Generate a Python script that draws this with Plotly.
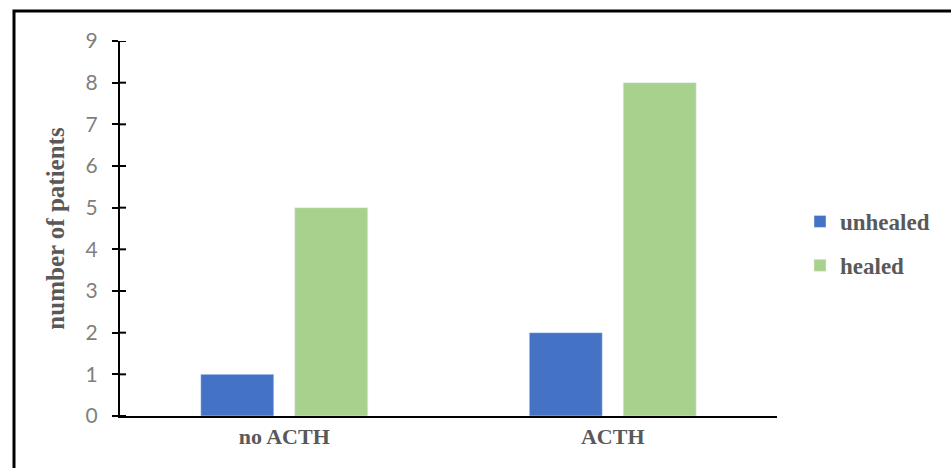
import plotly.graph_objects as go

categories = ["no ACTH", "ACTH"]
unhealed = [1, 2]
healed = [5, 8]
y_ticks = list(range(0, 10))

W, H = 951, 468
L, R, T, B = 120, 174, 41, 52
pw, ph = W - L - R, H - T - B

serif_bold = dict(family="Liberation Serif", color="#595959", weight="bold")

fig = go.Figure()
fig.add_trace(go.Bar(name="unhealed", x=categories, y=unhealed,
                     marker_color="#4472C4", legendgroup="a"))
fig.add_trace(go.Bar(name="healed", x=categories, y=healed,
                     marker_color="#A9D18E", legendgroup="b"))

fig.update_layout(
    width=W, height=H,
    margin=dict(l=L, r=R, t=T, b=B, pad=0),
    paper_bgcolor="white", plot_bgcolor="white",
    barmode="group", bargap=0.428, bargroupgap=0.223,
    legend=dict(x=(800 - L) / pw, y=(ph - (200 - T)) / ph, xanchor="left", yanchor="top",
                font=dict(size=23, **serif_bold),
                tracegroupgap=11, itemwidth=30, bgcolor="rgba(0,0,0,0)"),
    xaxis=dict(showline=True, linecolor="black", linewidth=2, ticks="",
               tickfont=dict(size=22, **serif_bold),
               showgrid=False, zeroline=False),
    yaxis=dict(range=[0, 9], tickvals=y_ticks, showline=True, linecolor="black",
               linewidth=2, ticks="outside", ticklen=6, tickwidth=2, tickcolor="black",
               tickfont=dict(size=21, family="Lato", color="#7f7f7f"),
               ticklabelstandoff=10, showgrid=False, zeroline=False,
               title=dict(text="number of patients", standoff=14,
                          font=dict(size=25, **serif_bold))),
)

# inner half of the cross-style ticks on the value axis
for v in y_ticks:
    fig.add_shape(type="line", xref="paper", yref="y", x0=0, x1=6 / pw, y0=v, y1=v,
                  line=dict(color="black", width=2), layer="above")

# outer frame
fig.add_shape(type="rect", xref="paper", yref="paper",
              x0=(14 - L) / pw, x1=(960 - L) / pw,
              y0=(ph - (480 - T)) / ph, y1=(ph - (11 - T)) / ph,
              line=dict(color="black", width=3), fillcolor="rgba(0,0,0,0)", layer="above")

fig.write_html("out.html")
